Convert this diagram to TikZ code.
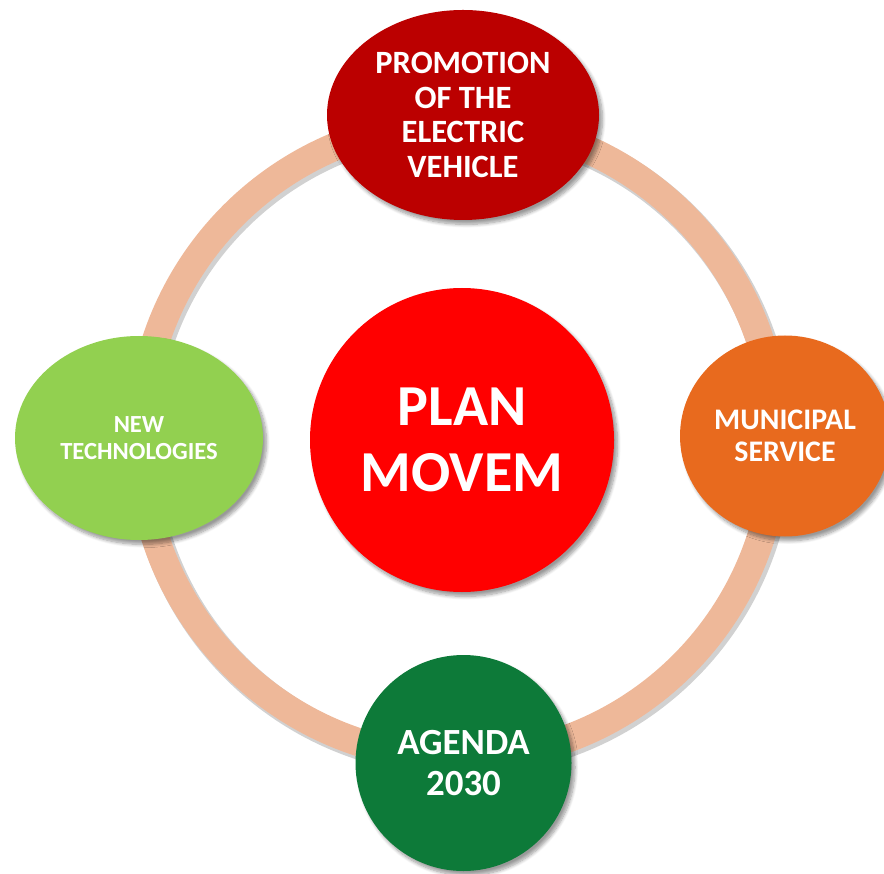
\documentclass[tikz,border=0pt]{standalone}
\usepackage{fontspec}
\setmainfont{Carlito}
\usepackage{tikz}
\usetikzlibrary{shapes.geometric}
\usetikzlibrary{shadows.blur}
\definecolor{ringcol}{RGB}{238,184,153}
\definecolor{promocol}{RGB}{187,0,0}
\definecolor{techcol}{RGB}{146,208,80}
\definecolor{municol}{RGB}{232,106,30}
\definecolor{agendacol}{RGB}{13,122,57}
\definecolor{plancol}{RGB}{255,0,0}
\tikzset{
	bubble/.style={ellipse, inner sep=0pt, text=white, align=center,
		blur shadow={shadow xshift=2pt, shadow yshift=-2.5pt, shadow opacity=40, shadow blur steps=8}}
}

\begin{document}
\begin{tikzpicture}
	\useasboundingbox (0,0) rectangle (17.68,17.46);
	\coordinate (hub) at (9.16,8.66);
	% ring behind the topics
	\draw[black!60, opacity=0.3, line width=0.6cm] ([shift={(0.05,-0.06)}]hub) circle (6.36);
	\draw[ringcol, line width=0.56cm] (hub) circle (6.36);

	\node[bubble, fill=plancol, minimum size=6.08cm, font={\fontsize{33}{37.5}\selectfont\bfseries}] (plan) at (9.24,8.66) {PLAN\\MOVEM};
	\node[bubble, fill=promocol, minimum width=5.44cm, minimum height=4.2cm, font={\fontsize{18.5}{19.6}\selectfont\bfseries}] (promo) at (9.26,15.16) {PROMOTION\\OF THE\\ELECTRIC\\VEHICLE};
	\node[bubble, fill=techcol, minimum width=4.96cm, minimum height=4.08cm, font={\fontsize{14}{15.5}\selectfont\bfseries}] (tech) at (2.78,8.70) {NEW\\TECHNOLOGIES};
	\node[bubble, fill=municol, minimum width=4.2cm, minimum height=4.02cm, font={\fontsize{17}{18}\selectfont\bfseries}] (muni) at (15.70,8.74) {MUNICIPAL\\SERVICE};
	\node[bubble, fill=agendacol, minimum size=4.32cm, font={\fontsize{21}{23}\selectfont\bfseries}] (agenda) at (9.27,2.2) {AGENDA\\2030};
\end{tikzpicture}
\end{document}
